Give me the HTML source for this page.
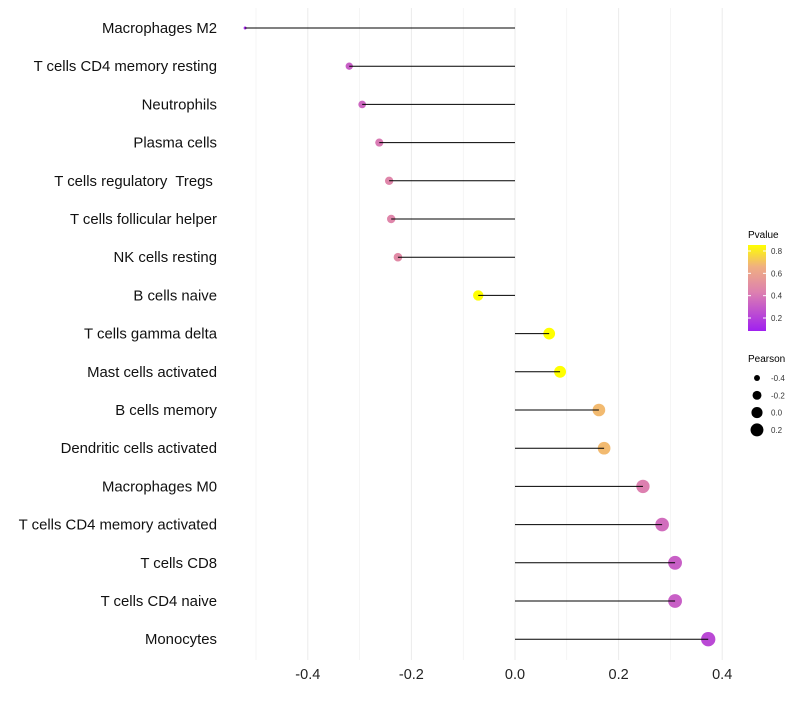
<!DOCTYPE html>
<html><head><meta charset="utf-8"><style>
body{margin:0;background:#fff;font-family:"Liberation Sans",sans-serif}
text{white-space:pre}
</style></head><body>
<svg id="chart" width="800" height="700" xmlns="http://www.w3.org/2000/svg">
<defs><linearGradient id="pg" x1="0" y1="1" x2="0" y2="0">
<stop offset="0" stop-color="#a020f0"/><stop offset="0.45" stop-color="#dd80b0"/><stop offset="0.75" stop-color="#f0b080"/><stop offset="1" stop-color="#ffff00"/></linearGradient></defs>
<g id="grid"></g><g id="marks"></g><g id="labels"></g>
<g font-size="10">
<text x="748" y="238" font-size="10" fill="#000">Pvalue</text>
<rect x="748" y="245" width="18" height="86" fill="url(#pg)"/>
<g id="pticks"></g>
</g>
<g>
<text x="748" y="362" font-size="10" fill="#000">Pearson</text>
<g id="sleg"></g>
</g>
</svg>
<script>
const categories=["Macrophages M2","T cells CD4 memory resting","Neutrophils","Plasma cells","T cells regulatory  Tregs ","T cells follicular helper","NK cells resting","B cells naive","T cells gamma delta","Mast cells activated","B cells memory","Dendritic cells activated","Macrophages M0","T cells CD4 memory activated","T cells CD8","T cells CD4 naive","Monocytes"];
const pearson=[-0.521,-0.320,-0.295,-0.262,-0.243,-0.239,-0.226,-0.071,0.066,0.087,0.162,0.172,0.247,0.284,0.309,0.309,0.373];
const pvalue=[0.1,0.3,0.33,0.4,0.45,0.45,0.47,0.85,0.85,0.85,0.68,0.68,0.42,0.35,0.3,0.3,0.22];
const xTicks=[-0.4,-0.2,0.0,0.2,0.4];
const pTicks=[0.2,0.4,0.6,0.8];
const sizeLegend=[-0.4,-0.2,0.0,0.2];
const NS="http://www.w3.org/2000/svg";
const xs=v=>515+v*518;
const ys=i=>28+i*38.2;
const rs=v=>Math.sqrt(Math.max(1,2.25+(v+0.52)*55));
const py=p=>251+(0.8-p)/0.6*67;
function col(p){const t=Math.max(0,Math.min(1,(p-0.07)/0.78));
const st=[[0,[160,32,240]],[0.45,[221,128,176]],[0.75,[240,176,128]],[1,[255,255,0]]];
for(let k=1;k<st.length;k++){if(t<=st[k][0]){const a=st[k-1],b=st[k];const u=(t-a[0])/(b[0]-a[0]);
return "rgb("+a[1].map((c,j)=>Math.round(c+(b[1][j]-c)*u)).join(",")+")";}}return "rgb(255,255,0)";}
function mk(tag,at,parent){const e=document.createElementNS(NS,tag);for(const k in at)e.setAttribute(k,at[k]);parent.appendChild(e);return e;}
const grid=document.getElementById('grid'),marks=document.getElementById('marks'),labels=document.getElementById('labels');
for(let v=-0.5;v<=0.41;v+=0.1){const g=mk('line',{x1:xs(v),x2:xs(v),y1:8,y2:660,stroke:'#ebebeb','stroke-width':Math.abs(Math.round(v*10))%2===0?1:0.5},grid);

}
xTicks.forEach(v=>{const t=mk('text',{x:xs(v),y:679,'text-anchor':'middle','font-size':14.5,fill:'#222'},labels);t.textContent=v.toFixed(1);

});
categories.forEach((c,i)=>{const t=mk('text',{x:217,y:ys(i)+5,'text-anchor':'end','font-size':14.9,fill:'#111'},labels);t.textContent=c;


const d=mk('circle',{cx:xs(pearson[i]),cy:ys(i),r:rs(pearson[i]),fill:col(pvalue[i])},marks);


const l=mk('line',{x1:xs(0),x2:xs(pearson[i]),y1:ys(i),y2:ys(i),stroke:'#000','stroke-width':1},marks);

});
const pt=document.getElementById('pticks');
pTicks.forEach(p=>{mk('line',{x1:748,x2:751,y1:py(p),y2:py(p),stroke:'#fff'},pt);mk('line',{x1:763,x2:766,y1:py(p),y2:py(p),stroke:'#fff'},pt);
const t=mk('text',{x:771,y:py(p)+3,'font-size':8,fill:'#333'},pt);t.textContent=p.toFixed(1);

});
const sl=document.getElementById('sleg');
sizeLegend.forEach((v,k)=>{const y=378+k*17.3;const c=mk('circle',{cx:757,cy:y,r:rs(v),fill:'#000'},sl);


const t=mk('text',{x:771,y:y+3,'font-size':8,fill:'#333'},sl);t.textContent=v.toFixed(1);

});
</script>
</body></html>
